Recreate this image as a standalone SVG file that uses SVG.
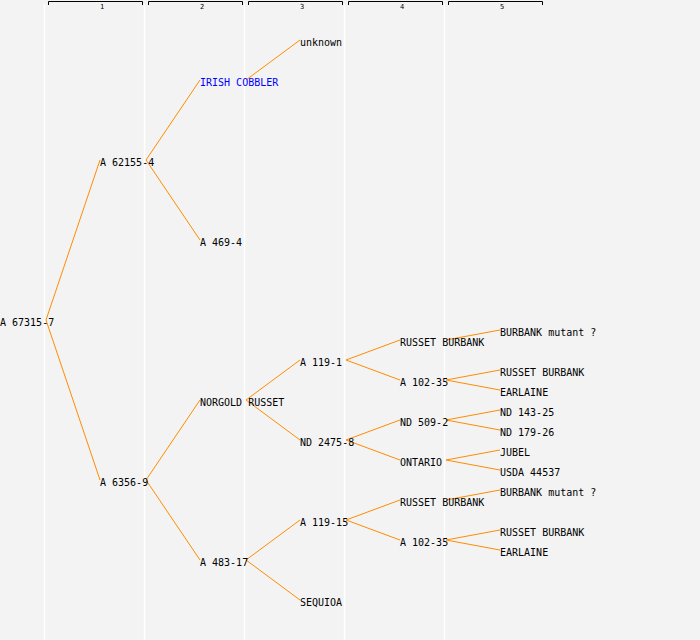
<svg xmlns="http://www.w3.org/2000/svg" width="700" height="640" viewBox="0 0 700 640">
<style>
.bg{fill:#f3f3f3}
.sep{stroke:#ffffff;stroke-width:1.5}
.br{fill:none;stroke:#000;stroke-width:1}
.hd{font-family:"DejaVu Sans Mono","Liberation Mono",monospace;font-size:7px;fill:#000;text-anchor:middle}
.t{font-family:"DejaVu Sans Mono","Liberation Mono",monospace;font-size:10px;fill:#000}
.blue{fill:#0000ff}
#connectors line{stroke:#ff8c00;stroke-width:1}
</style>
<rect class="bg" x="0" y="0" width="700" height="640"/>
<g id="grid">
<line class="sep" x1="44.5" y1="4" x2="44.5" y2="640"/>
<line class="sep" x1="144.5" y1="4" x2="144.5" y2="640"/>
<line class="sep" x1="244.5" y1="4" x2="244.5" y2="640"/>
<line class="sep" x1="344.5" y1="4" x2="344.5" y2="640"/>
<line class="sep" x1="444.5" y1="4" x2="444.5" y2="640"/>
</g>
<g id="header">
<path class="br" d="M48.5,5 V1.5 H142.5 V5"/>
<path class="br" d="M148.5,5 V1.5 H242.5 V5"/>
<path class="br" d="M248.5,5 V1.5 H342.5 V5"/>
<path class="br" d="M348.5,5 V1.5 H442.5 V5"/>
<path class="br" d="M448.5,5 V1.5 H542.5 V5"/>
<text class="hd" x="102" y="9">1</text>
<text class="hd" x="202" y="9">2</text>
<text class="hd" x="302" y="9">3</text>
<text class="hd" x="402" y="9">4</text>
<text class="hd" x="502" y="9">5</text>
</g>
<g id="connectors">
<line x1="46" y1="320" x2="100" y2="160"/>
<line x1="46" y1="320" x2="100" y2="480"/>
<line x1="146" y1="160" x2="200" y2="80"/>
<line x1="146" y1="160" x2="200" y2="240"/>
<line x1="146" y1="480" x2="200" y2="400"/>
<line x1="146" y1="480" x2="200" y2="560"/>
<line x1="246" y1="80" x2="300" y2="40"/>
<line x1="246" y1="400" x2="300" y2="360"/>
<line x1="246" y1="400" x2="300" y2="440"/>
<line x1="246" y1="560" x2="300" y2="520"/>
<line x1="246" y1="560" x2="300" y2="600"/>
<line x1="346" y1="360" x2="400" y2="340"/>
<line x1="346" y1="360" x2="400" y2="380"/>
<line x1="346" y1="440" x2="400" y2="420"/>
<line x1="346" y1="440" x2="400" y2="460"/>
<line x1="346" y1="520" x2="400" y2="500"/>
<line x1="346" y1="520" x2="400" y2="540"/>
<line x1="446" y1="340" x2="500" y2="330"/>
<line x1="446" y1="380" x2="500" y2="370"/>
<line x1="446" y1="380" x2="500" y2="390"/>
<line x1="446" y1="420" x2="500" y2="410"/>
<line x1="446" y1="420" x2="500" y2="430"/>
<line x1="446" y1="460" x2="500" y2="450"/>
<line x1="446" y1="460" x2="500" y2="470"/>
<line x1="446" y1="500" x2="500" y2="490"/>
<line x1="446" y1="540" x2="500" y2="530"/>
<line x1="446" y1="540" x2="500" y2="550"/>
</g>
<g id="n0"><text class="t" x="0" y="326">A 67315-7</text></g>
<g id="n1"><text class="t" x="100" y="166">A 62155-4</text></g>
<g id="n2"><text class="t" x="100" y="486">A 6356-9</text></g>
<g id="n3"><text class="t blue" x="200" y="86">IRISH COBBLER</text></g>
<g id="n4"><text class="t" x="200" y="246">A 469-4</text></g>
<g id="n5"><text class="t" x="200" y="406">NORGOLD RUSSET</text></g>
<g id="n6"><text class="t" x="200" y="566">A 483-17</text></g>
<g id="n7"><text class="t" x="300" y="46">unknown</text></g>
<g id="n8"><text class="t" x="300" y="366">A 119-1</text></g>
<g id="n9"><text class="t" x="300" y="446">ND 2475-8</text></g>
<g id="n10"><text class="t" x="300" y="526">A 119-15</text></g>
<g id="n11"><text class="t" x="300" y="606">SEQUIOA</text></g>
<g id="n12"><text class="t" x="400" y="346">RUSSET BURBANK</text></g>
<g id="n13"><text class="t" x="400" y="386">A 102-35</text></g>
<g id="n14"><text class="t" x="400" y="426">ND 509-2</text></g>
<g id="n15"><text class="t" x="400" y="466">ONTARIO</text></g>
<g id="n16"><text class="t" x="400" y="506">RUSSET BURBANK</text></g>
<g id="n17"><text class="t" x="400" y="546">A 102-35</text></g>
<g id="n18"><text class="t" x="500" y="336">BURBANK mutant ?</text></g>
<g id="n19"><text class="t" x="500" y="376">RUSSET BURBANK</text></g>
<g id="n20"><text class="t" x="500" y="396">EARLAINE</text></g>
<g id="n21"><text class="t" x="500" y="416">ND 143-25</text></g>
<g id="n22"><text class="t" x="500" y="436">ND 179-26</text></g>
<g id="n23"><text class="t" x="500" y="456">JUBEL</text></g>
<g id="n24"><text class="t" x="500" y="476">USDA 44537</text></g>
<g id="n25"><text class="t" x="500" y="496">BURBANK mutant ?</text></g>
<g id="n26"><text class="t" x="500" y="536">RUSSET BURBANK</text></g>
<g id="n27"><text class="t" x="500" y="556">EARLAINE</text></g>
</svg>
